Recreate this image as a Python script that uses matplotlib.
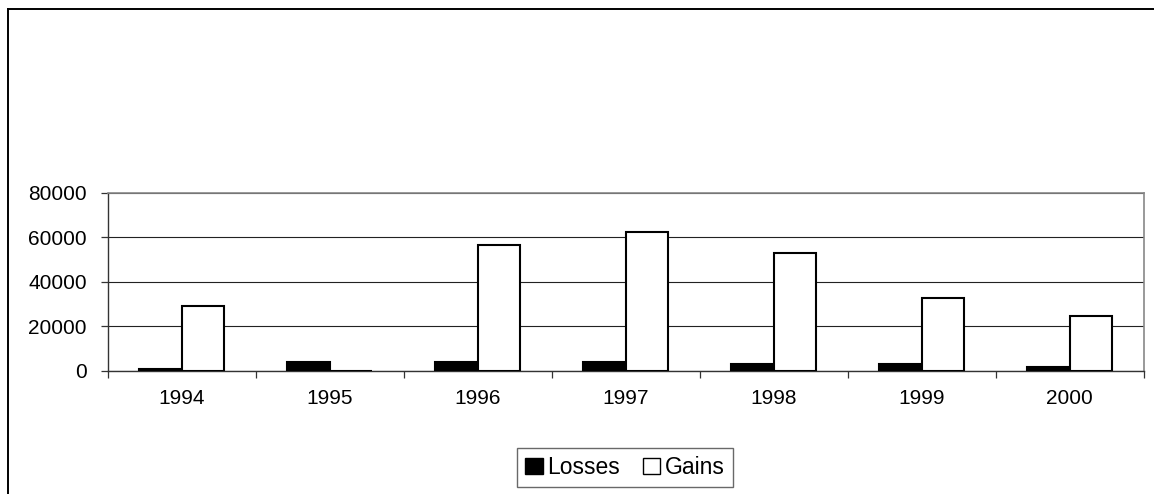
import matplotlib
matplotlib.use("Agg")
import matplotlib.pyplot as plt
from matplotlib.lines import Line2D
import numpy as np

years = ["1994", "1995", "1996", "1997", "1998", "1999", "2000"]
losses = [900, 3800, 3800, 3800, 3000, 2900, 1800]
gains = [28900, 0, 56500, 62200, 53100, 32500, 24400]
yticks = [0, 20000, 40000, 60000, 80000]

plt.rcParams['font.family'] = ['Liberation Sans', 'DejaVu Sans']

W, H = 1154, 494
fig = plt.figure(figsize=(W / 100, H / 100), dpi=100)
fig.patch.set_facecolor('white')

# figure frame (top and left only, image is cropped)
fig.add_artist(Line2D([8 / W, 1.0], [1 - 9 / H, 1 - 9 / H], transform=fig.transFigure,
                      color='black', lw=1.4))
fig.add_artist(Line2D([8 / W, 8 / W], [0, 1 - 9 / H], transform=fig.transFigure,
                      color='black', lw=1.4))

ax = fig.add_axes([107.7 / W, 123.3 / H, 1035.8 / W, 178 / H])
x = np.arange(len(years))
w = 42.3 / 148
ax.bar(x - w / 2, losses, width=w, color='black', edgecolor='black', lw=1.5,
       label='Losses', zorder=3)
ax.bar(x + w / 2, gains, width=w, color='white', edgecolor='black', lw=1.5,
       label='Gains', zorder=3)

ax.set_xlim(-0.5, len(years) - 0.5)
ax.set_ylim(0, 80000)
ax.set_yticks(yticks)
ax.set_yticklabels([str(v) for v in yticks])
ax.yaxis.grid(True, color='#222222', lw=0.8, zorder=0)
ax.set_xticks(x)
ax.set_xticklabels(years)
ax.set_xticks(np.arange(len(years) + 1) - 0.5, minor=True)
ax.tick_params(axis='x', which='major', length=0, pad=13, labelsize=15)
ax.tick_params(axis='x', which='minor', length=5, width=0.9, color='#333333')
ax.tick_params(axis='y', length=5, width=0.9, pad=10, labelsize=15, color='#333333')

for s in ['top', 'right']:
    ax.spines[s].set_color('#888888')
    ax.spines[s].set_linewidth(1.2)
for s in ['left', 'bottom']:
    ax.spines[s].set_color('#333333')
    ax.spines[s].set_linewidth(1.0)

leg = fig.legend(loc='center', bbox_to_anchor=(625 / W, 26.6 / H), ncol=2,
                 fontsize=16.5, frameon=True, fancybox=False, edgecolor='#444444',
                 handlelength=0.75, handleheight=0.75, handletextpad=0.2,
                 columnspacing=1.0, borderpad=0.35, borderaxespad=0)
leg.get_frame().set_linewidth(1.0)
for h in leg.legend_handles:
    h.set_linewidth(1.0)

fig.savefig('out.png', dpi=100, facecolor='white')
